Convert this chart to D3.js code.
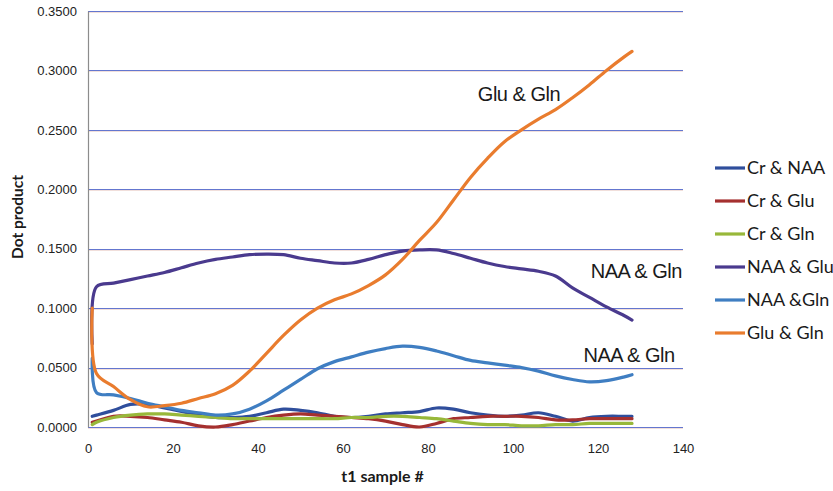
<!DOCTYPE html>
<html>
<head>
<meta charset="utf-8">
<script src="https://cdn.jsdelivr.net/npm/d3@7"></script>
<style>
  html, body { margin: 0; padding: 0; background: #fff; }
  svg { display: block; }
</style>
</head>
<body>
<svg id="chart" width="833" height="491"></svg>
<script>
// Sample numbers at which each series is read
const sampleNo = [1, 2, 6, 10, 14, 18, 22, 26, 30, 34, 38, 42, 46, 50, 54, 58, 62, 66,
                  70, 74, 78, 82, 86, 90, 94, 98, 102, 106, 110, 114, 118, 122, 126, 128];

const seriesNames = ["Cr & NAA", "Cr & Glu", "Cr & Gln", "NAA & Glu", "NAA &Gln", "Glu & Gln"];
const seriesColors = ["#2f4e9c", "#a5302f", "#98b83a", "#4a3a8e", "#3f7ec2", "#e97c2e"];

const crNaa = [0.009, 0.010, 0.014, 0.019, 0.019, 0.016, 0.013, 0.010, 0.008, 0.008, 0.009, 0.012,
               0.015, 0.014, 0.012, 0.009, 0.008, 0.009, 0.011, 0.012, 0.013, 0.016, 0.015, 0.012,
               0.010, 0.009, 0.010, 0.012, 0.009, 0.005, 0.008, 0.009, 0.009, 0.009];
const crGlu = [0.004, 0.005, 0.009, 0.009, 0.008, 0.006, 0.004, 0.001, 0.000, 0.002, 0.005, 0.008,
               0.010, 0.011, 0.010, 0.009, 0.008, 0.007, 0.005, 0.002, 0.000, 0.003, 0.007, 0.008,
               0.009, 0.009, 0.009, 0.008, 0.006, 0.006, 0.007, 0.007, 0.007, 0.007];
const crGln = [0.002, 0.004, 0.008, 0.010, 0.011, 0.011, 0.010, 0.009, 0.008, 0.007, 0.007, 0.007,
               0.007, 0.007, 0.007, 0.007, 0.008, 0.008, 0.009, 0.009, 0.008, 0.007, 0.005, 0.003,
               0.002, 0.002, 0.001, 0.001, 0.002, 0.002, 0.003, 0.003, 0.003, 0.003];
const naaGlu = [0.070, 0.118, 0.121, 0.124, 0.127, 0.130, 0.134, 0.138, 0.141, 0.143, 0.145, 0.1455,
                0.145, 0.142, 0.140, 0.138, 0.138, 0.141, 0.145, 0.148, 0.149, 0.149, 0.146, 0.142,
                0.138, 0.135, 0.133, 0.131, 0.127, 0.117, 0.109, 0.101, 0.094, 0.090];
const naaGln = [0.058, 0.029, 0.027, 0.024, 0.020, 0.017, 0.014, 0.012, 0.010, 0.011, 0.015, 0.022,
                0.031, 0.040, 0.049, 0.055, 0.059, 0.063, 0.066, 0.068, 0.067, 0.064, 0.060, 0.056,
                0.054, 0.052, 0.050, 0.047, 0.043, 0.040, 0.038, 0.039, 0.042, 0.044];
const gluGln = [0.100, 0.045, 0.034, 0.023, 0.017, 0.018, 0.020, 0.024, 0.028, 0.035, 0.047, 0.062,
                0.077, 0.090, 0.100, 0.107, 0.112, 0.119, 0.128, 0.141, 0.157, 0.172, 0.191, 0.210,
                0.226, 0.240, 0.250, 0.259, 0.267, 0.277, 0.288, 0.300, 0.311, 0.316];

const seriesValues = [crNaa, crGlu, crGln, naaGlu, naaGln, gluGln];

const xTicks = [0, 20, 40, 60, 80, 100, 120, 140];
const yTicks = [0, 0.05, 0.10, 0.15, 0.20, 0.25, 0.30, 0.35];

// In-plot callouts: [text, sample #, value]
const callouts = [
  ["Glu & Gln", 101.4, 0.274],
  ["NAA & Gln", 129, 0.125],
  ["NAA & Gln", 127.3, 0.0545]
];

const svg = d3.select("#chart");
const plot = { left: 88, right: 683, top: 11, bottom: 427 };

const x = d3.scaleLinear().domain([0, 140]).range([plot.left, plot.right]);
const y = d3.scaleLinear().domain([0, 0.35]).range([plot.bottom, plot.top]);

// Horizontal gridlines (blue with a faint warm fringe beneath)
const gy0 = d => Math.round(y(d)) + 0.5;
const grid = svg.append("g");
grid.selectAll("line.fringe").data(yTicks).join("line")
  .attr("class", "fringe")
  .attr("x1", plot.left).attr("x2", plot.right)
  .attr("y1", d => gy0(d) + 1).attr("y2", d => gy0(d) + 1)
  .attr("stroke", "#d9a59a").attr("stroke-width", 1).attr("opacity", 0.35);
grid.selectAll("line.main").data(yTicks).join("line")
  .attr("class", "main")
  .attr("x1", plot.left).attr("x2", plot.right)
  .attr("y1", gy0).attr("y2", gy0)
  .attr("stroke", "#6476cf").attr("stroke-width", 1);

// Y axis
const yAxis = d3.axisLeft(y).tickValues(yTicks).tickFormat(d3.format(".4f")).tickSize(0).tickPadding(11);
const gy = svg.append("g").attr("transform", `translate(${plot.left},0)`).call(yAxis);
gy.select(".domain").attr("stroke", "#8c8c8c").attr("stroke-width", 1.2);
gy.selectAll("text")
  .attr("font-family", "'Liberation Sans', Arial, sans-serif")
  .attr("font-size", 13).attr("fill", "#222");

// X axis (labels only; the zero gridline serves as the baseline)
const xAxis = d3.axisBottom(x).tickValues(xTicks).tickFormat(d3.format("d")).tickSize(0).tickPadding(17);
const gx = svg.append("g").attr("transform", `translate(0,${plot.bottom})`).call(xAxis);
gx.select(".domain").remove();
gx.selectAll("text")
  .attr("font-family", "'Liberation Sans', Arial, sans-serif")
  .attr("font-size", 13).attr("fill", "#222");

// Series lines
const line = d3.line()
  .x((d, i) => x(sampleNo[i]))
  .y(d => y(d))
  .curve(d3.curveCatmullRom.alpha(0.5));

svg.append("g").selectAll("path").data(seriesValues).join("path")
  .attr("d", d => line(d))
  .attr("fill", "none")
  .attr("stroke", (d, i) => seriesColors[i])
  .attr("stroke-width", 3.2)
  .attr("stroke-linejoin", "round")
  .attr("stroke-linecap", "round");

// Callout labels
svg.append("g").selectAll("text").data(callouts).join("text")
  .attr("x", d => x(d[1]))
  .attr("y", d => y(d[2]))
  .attr("text-anchor", "middle")
  .attr("font-family", "'Liberation Sans', Arial, sans-serif")
  .attr("font-size", 20)
  .attr("letter-spacing", -0.5)
  .attr("fill", "#1a1a1a")
  .text(d => d[0]);

// Axis titles
svg.append("text")
  .attr("x", (plot.left + plot.right) / 2 - 3).attr("y", 482)
  .attr("text-anchor", "middle")
  .attr("font-family", "Lato, sans-serif").attr("font-weight", "bold")
  .attr("font-size", 16).attr("fill", "#1a1a1a")
  .text("t1 sample #");

svg.append("text")
  .attr("transform", "translate(23,217) rotate(-90)")
  .attr("text-anchor", "middle")
  .attr("font-family", "Lato, sans-serif").attr("font-weight", "bold")
  .attr("font-size", 15.5).attr("fill", "#1a1a1a")
  .text("Dot product");

// Legend
const legend = svg.append("g").attr("transform", "translate(715,168)");
const item = legend.selectAll("g").data(seriesNames).join("g")
  .attr("transform", (d, i) => `translate(0,${i * 33})`);
item.append("line")
  .attr("x1", 0).attr("x2", 30).attr("y1", 0).attr("y2", 0)
  .attr("stroke", (d, i) => seriesColors[i]).attr("stroke-width", 3.2);
item.append("text")
  .attr("x", 32).attr("y", 0).attr("dy", "0.35em")
  .attr("font-family", "Lato, sans-serif")
  .attr("font-size", 18).attr("fill", "#1a1a1a")
  .text(d => d);
</script>
</body>
</html>
